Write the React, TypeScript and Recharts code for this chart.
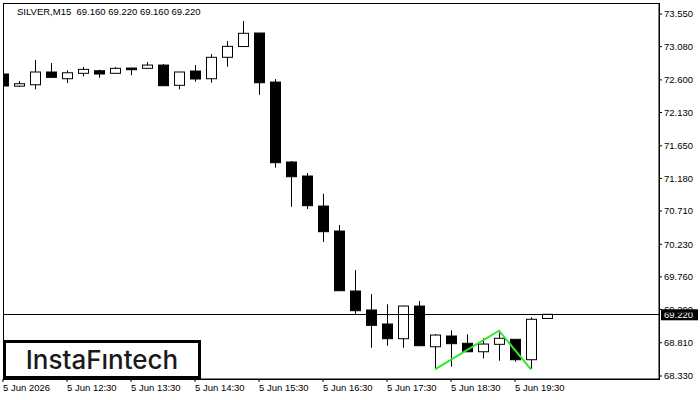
import { ComposedChart, Bar, Line, XAxis, YAxis, ReferenceLine, ReferenceArea } from 'recharts';

// SILVER M15 candles, 11:30 .. 20:00 (index 0 = 11:30)
const opens = [
  72.685, 72.510, 72.530, 72.714, 72.617, 72.695, 72.732, 72.695, 72.771, 72.767,
  72.814, 72.522, 72.728, 72.617, 72.926, 73.081, 73.276, 72.569, 71.416, 71.214,
  70.781, 70.421, 69.556, 69.282, 69.080, 68.868, 69.339, 68.752, 68.907, 68.802,
  68.680, 68.787, 68.859, 68.565, 69.160,
];
const highs = [
  72.742, 72.583, 72.887, 72.843, 72.738, 72.786, 72.747, 72.786, 72.771, 72.858,
  72.829, 72.714, 72.814, 72.973, 73.160, 73.449, 73.276, 72.612, 71.430, 71.257,
  70.959, 70.507, 69.858, 69.512, 69.364, 69.345, 69.411, 68.936, 68.989, 68.931,
  68.874, 68.993, 68.859, 69.176, 69.220,
];
const lows = [
  72.500, 72.500, 72.464, 72.637, 72.555, 72.652, 72.631, 72.695, 72.666, 72.767,
  72.516, 72.464, 72.574, 72.559, 72.790, 73.081, 72.386, 71.334, 70.771, 70.738,
  70.262, 69.560, 69.224, 68.738, 68.767, 68.738, 68.767, 68.427, 68.464, 68.680,
  68.585, 68.551, 68.536, 68.431, 69.160,
];
const closes = [
  72.512, 72.545, 72.714, 72.637, 72.703, 72.752, 72.685, 72.767, 72.747, 72.814,
  72.516, 72.714, 72.613, 72.926, 73.084, 73.272, 72.559, 71.406, 71.204, 70.786,
  70.411, 69.560, 69.272, 69.061, 68.868, 69.339, 68.767, 68.921, 68.796, 68.680,
  68.791, 68.874, 68.565, 69.148, 69.220,
];

// double bottom pattern (green)
const patternIdx = [27, 31, 33];
const patternVals = [68.427, 68.983, 68.427];

const timeTickIdx = [0, 4, 8, 12, 16, 20, 24, 28, 32];
const timeLabels = [
  '5 Jun 2026', '5 Jun 12:30', '5 Jun 13:30', '5 Jun 14:30', '5 Jun 15:30',
  '5 Jun 16:30', '5 Jun 17:30', '5 Jun 18:30', '5 Jun 19:30',
];
const priceTicks = [68.33, 68.81, 69.29, 69.76, 70.23, 70.71, 71.18, 71.65, 72.13, 72.6, 73.08, 73.55];
const lastPrice = 69.22;

const candles = opens.map((o, i) => ({ i, open: o, high: highs[i], low: lows[i], close: closes[i] }));
const pattern = patternIdx.map((i, n) => ({ i, v: patternVals[n] }));

const FONT = '"Liberation Sans", Arial, sans-serif';

const Candle = (props: any) => {
  const { x, y, width, height, payload } = props;
  if (!payload || y == null || height == null) return null;
  const top = Math.min(y, y + height);
  const h = Math.abs(height);
  const k = h / (payload.high - payload.low || 1);
  const cx = Math.round(x + width / 2);
  const yo = top + (payload.high - payload.open) * k;
  const yc = top + (payload.high - payload.close) * k;
  const bTop = Math.min(yo, yc);
  const bH = Math.max(Math.abs(yo - yc), 1);
  const up = payload.close >= payload.open;
  return (
    <g>
      <line x1={cx + 0.5} x2={cx + 0.5} y1={top} y2={top + h} stroke="#000" strokeWidth={1} />
      <rect x={cx - 4.5} y={bTop} width={10} height={bH} fill={up ? '#fff' : '#000'} stroke="#000" strokeWidth={1} />
    </g>
  );
};

const XTick = (props: any) => {
  const { x, y, payload } = props;
  const n = timeTickIdx.indexOf(payload.value);
  return (
    <text x={x} y={y} dy="0.71em" textAnchor="start" fontSize={9.5} fontFamily={FONT} fill="#000">
      {n >= 0 ? timeLabels[n] : ''}
    </text>
  );
};

const PriceLabel = (props: any) => {
  const vb = props.viewBox || {};
  const x = vb.x + vb.width + 2;
  const y = vb.y;
  return (
    <g>
      <rect x={x} y={y - 5} width={37} height={11} fill="#000" />
      <text x={x + 3} y={y + 4} fontSize={9.5} fontFamily={FONT} fill="#fff">
        {lastPrice.toFixed(3)}
      </text>
    </g>
  );
};

export default function App() {
  return (
    <div style={{ position: 'absolute', left: 0, top: 0, width: 700, height: 400, background: '#fff' }}>
      <ComposedChart width={700} height={400} data={candles} margin={{ top: 3, right: 0, bottom: 0, left: 3 }}>
        <XAxis
          type="number"
          dataKey="i"
          domain={[0, 41]}
          ticks={timeTickIdx}
          interval={0}
          allowDataOverflow
          height={21}
          tickSize={3}
          axisLine={{ stroke: '#000' }}
          tickLine={{ stroke: '#000' }}
          tick={XTick}
        />
        <YAxis
          orientation="right"
          domain={[68.287, 73.709]}
          ticks={priceTicks}
          interval={0}
          allowDataOverflow
          width={41}
          tickSize={3}
          axisLine={{ stroke: '#000' }}
          tickLine={{ stroke: '#000' }}
          tick={{ fill: '#000', fontSize: 9.5, fontFamily: FONT }}
          tickFormatter={(v: number) => v.toFixed(3)}
        />
        <ReferenceArea x1={0} x2={41} y1={68.287} y2={73.709} fill="none" stroke="#000" strokeWidth={1} shapeRendering="crispEdges" />
        <ReferenceLine y={lastPrice} stroke="#000" strokeWidth={1} shapeRendering="crispEdges" label={PriceLabel} />
        <Bar dataKey={(d: any) => [d.low, d.high]} barSize={10} shape={Candle} isAnimationActive={false} />
        <Line data={pattern} dataKey="v" stroke="#2ee82e" strokeWidth={2} dot={false} isAnimationActive={false} />
      </ComposedChart>
      <div style={{ position: 'absolute', left: 17, top: 7, fontSize: 9.5, lineHeight: '10px', fontFamily: FONT, color: '#000', whiteSpace: 'pre' }}>
        {'SILVER,M15  69.160 69.220 69.160 69.220'}
      </div>
      <div
        style={{
          position: 'absolute', left: 3, top: 340, width: 198, height: 39, boxSizing: 'border-box',
          border: '3px solid #000', background: '#fff', display: 'flex', alignItems: 'center',
          justifyContent: 'center', fontFamily: 'Inter, sans-serif', fontWeight: 500, fontSize: 26,
          color: '#1a1a1a', lineHeight: '26px',
        }}
      >
        InstaFıntech
      </div>
    </div>
  );
}
